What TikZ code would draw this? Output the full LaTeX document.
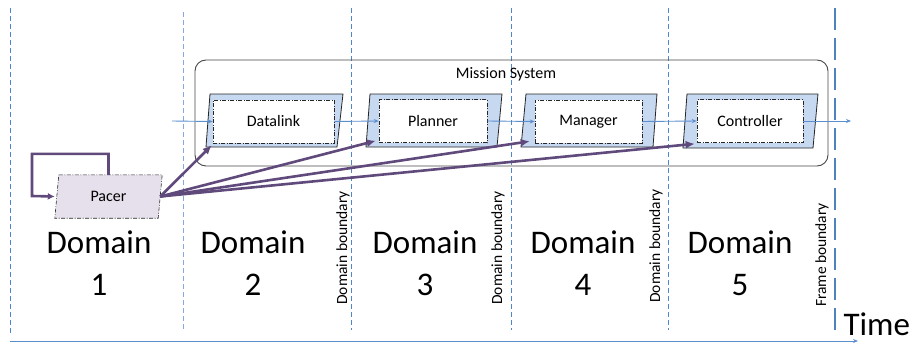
\documentclass[tikz,border=0pt]{standalone}
\usepackage{fontspec}
\setmainfont{Carlito}
\usetikzlibrary{arrows.meta,calc}
\definecolor{ctrlpurple}{HTML}{604A7B}
\definecolor{pacerfill}{HTML}{E5E0EC}
\definecolor{blockfill}{HTML}{C6D9F1}
\definecolor{flowblue}{HTML}{5B8FD0}
\definecolor{bndblue}{HTML}{4F86CC}
\definecolor{framebl}{HTML}{4F81BD}
\definecolor{edgegray}{HTML}{262626}
\tikzset{
  bnd/.style={draw=bndblue, line width=0.9pt, dash pattern=on 5pt off 3pt},
  framebnd/.style={draw=framebl, line width=2.4pt, dash pattern=on 22pt off 8pt},
  outerblk/.style={fill=blockfill, draw=edgegray, line width=0.8pt},
  innerblk/.style={draw=edgegray, fill=white, line width=0.6pt,
    dash pattern=on 4pt off 1.5pt on 1pt off 1.5pt,
    minimum height=43, inner sep=0pt, font=\fontsize{16}{19}\selectfont},
  pacershape/.style={fill=pacerfill, draw=edgegray, line width=0.6pt,
    dash pattern=on 4pt off 1.5pt on 1pt off 1.5pt},
  flow/.style={draw=flowblue, line width=0.9pt, -{Stealth[length=5pt,width=4pt]}},
  trigger/.style={draw=ctrlpurple, line width=2.6pt, -{Latex[length=9pt,width=8pt]}},
  domlabel/.style={font=\fontsize{33}{42}\selectfont, align=center, anchor=base},
  bndlabel/.style={font=\fontsize{15.5}{18}\selectfont, rotate=90},
}
\begin{document}
\begin{tikzpicture}[x=1pt,y=-1pt]
\useasboundingbox (0,0) rectangle (914,343);

% domain boundaries
\draw[bnd] (10,8) -- (10,334);
\draw[bnd, draw=bndblue!70] (183,12) -- (183,330);
\draw[bnd] (351,8) -- (351,330);
\draw[bnd] (511,8) -- (511,330);
\draw[bnd] (668,8) -- (668,330);
% frame boundary
\draw[framebnd] (835,8) -- (835,334);

% time axis
\coordinate (t0) at (10,341);
\coordinate (t1) at (858,341);
\draw[flow] (t0) -- (t1);
\node[font=\fontsize{33}{40}\selectfont, anchor=base west] (time) at (840,335) {Time};

% mission system container
\draw[draw=edgegray!85, line width=0.9pt, rounded corners=11pt] (195,60) rectangle (828,166);
\node[font=\fontsize{16}{19}\selectfont] (ms) at (506,74) {Mission System};

% block frames
\draw[outerblk] (210,94) -- (343,94) -- (337,147) -- (206,147) -- cycle;
\draw[outerblk] (370,94) -- (502,94) -- (497,147) -- (366,147) -- cycle;
\draw[outerblk] (526,94) -- (657,94) -- (653,147) -- (521,147) -- cycle;
\draw[outerblk] (687,94) -- (818,94) -- (813,148) -- (683,148) -- cycle;

% blocks
\node[innerblk, minimum width=121] (dl) at (273.5,121.5) {Datalink};
\node[innerblk, minimum width=108] (pl) at (433,121) {Planner};
\node[innerblk, minimum width=107] (mg) at (588.5,121.5) {Manager};
\node[innerblk, minimum width=106] (ct) at (750,121) {Controller};

% data flow
\coordinate (fin) at (172,121);
\coordinate (fout) at (851,121);
\draw[flow] (fin) -- (dl.west);
\draw[flow] (dl.east) -- (pl.west);
\draw[flow] (pl.east) -- (mg.west);
\draw[flow] (mg.east) -- (ct.west);
\draw[flow] (ct.east) -- (fout);

% pacer: slanted frame around a fixed-size anchor box
\node[minimum width=103, minimum height=43, inner sep=0pt] (pacer) at (108.5,196.5) {};
\path[pacershape] ($(pacer.north west)+(2,0)$) -- ($(pacer.north east)+(2,0)$)
  -- ($(pacer.south east)+(-2,0)$) -- ($(pacer.south west)+(-2,0)$) -- cycle;
\node[font=\fontsize{16}{19}\selectfont] (pacertxt) at (pacer) {Pacer};

% pacer self loop
\coordinate (loopc) at (32,196);
\draw[trigger, -{Latex[length=7pt,width=7pt]}] (pacer.north) -- ++(0,-21) -| (loopc) -- ($(pacer.west)+(-2,0)$);

% pacer triggers
\draw[trigger] (pacer.east) -- ($(dl.south west)+(-1,2)$);
\draw[trigger] (pacer.east) -- ($(pl.south west)+(-3,-2)$);
\draw[trigger] (pacer.east) -- ($(mg.south west)+(-5,-2)$);
\draw[trigger] (pacer.east) -- ($(ct.south west)+(-2,1)$);

% domain labels (anchored at the baseline of the number line)
\node[domlabel] (d1) at (99,295) {Domain\\1};
\node[domlabel] (d2) at (253,295) {Domain\\2};
\node[domlabel] (d3) at (425,295) {Domain\\3};
\node[domlabel] (d4) at (583,295) {Domain\\4};
\node[domlabel] (d5) at (740,295) {Domain\\5};

% boundary labels
\node[bndlabel] (b1) at (343,248) {Domain boundary};
\node[bndlabel] (b2) at (498,248) {Domain boundary};
\node[bndlabel] (b3) at (656,246) {Domain boundary};
\node[bndlabel] (b4) at (822,255) {Frame boundary};
\end{tikzpicture}
\end{document}
